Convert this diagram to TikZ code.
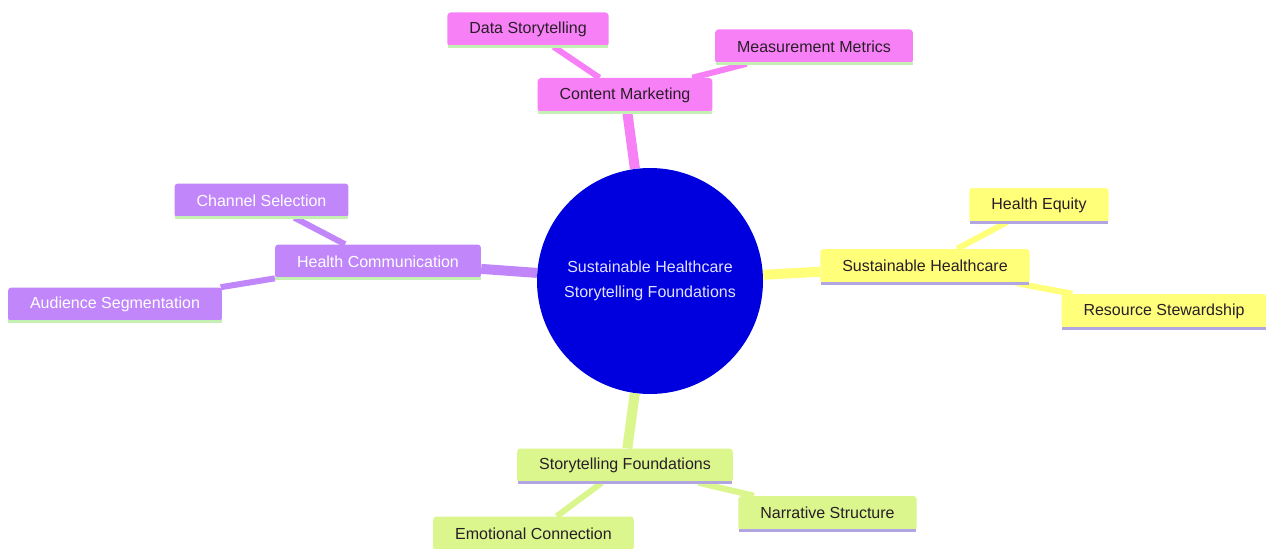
\documentclass[tikz,border=0pt]{standalone}
\usepackage{fontspec}
\setmainfont{Liberation Sans}
\usepackage{tikz}
\usetikzlibrary{backgrounds}

\definecolor{rootblue}{RGB}{0,0,222}
\definecolor{pinkfill}{RGB}{248,128,246}
\definecolor{yellowfill}{RGB}{255,255,122}
\definecolor{purplefill}{RGB}{192,134,250}
\definecolor{greenfill}{RGB}{218,246,140}
\definecolor{linegreen}{RGB}{196,240,180}
\definecolor{linelavender}{RGB}{178,166,226}
\definecolor{darktext}{RGB}{40,30,40}

\begin{document}
\begin{tikzpicture}[x=0.75pt, y=-0.75pt,
        root/.style={circle, fill=rootblue, minimum size=169.5pt, inner sep=0pt, text={rgb,255:red,225;green,225;blue,255}, align=center, font=\fontsize{12}{18.75}\selectfont},
        topic/.style={rectangle, rounded corners=2.5pt, minimum height=25.5pt, inner xsep=16.5pt, inner ysep=0pt, font=\fontsize{12}{14}\selectfont},
        pinkbox/.style={topic, fill=pinkfill, text=darktext},
        yellowbox/.style={topic, fill=yellowfill, text=darktext},
        purplebox/.style={topic, fill=purplefill, text=white},
        greenbox/.style={topic, fill=greenfill, text=darktext},
        trunk/.style={line width=7.5pt},
        twig/.style={line width=4.5pt}
      ]
        \useasboundingbox (0,0) rectangle (1266,549);

        \node[root]       (root)   at (650,281)   {Sustainable Healthcare\\Storytelling Foundations};

        \node[pinkbox]    (market) at (625,95)    {Content Marketing};
        \node[pinkbox]    (data)   at (528,29.5)  {Data Storytelling};
        \node[pinkbox]    (metric) at (814,46.5)  {Measurement Metrics};

        \node[yellowbox]  (sustain) at (925,266)  {Sustainable Healthcare};
        \node[yellowbox]  (equity)  at (1039,205) {Health Equity};
        \node[yellowbox]  (steward) at (1164,311) {Resource Stewardship};

        \node[purplebox]  (comm)     at (378,261.5) {Health Communication};
        \node[purplebox]  (channel)  at (261.5,200.5) {Channel Selection};
        \node[purplebox]  (audience) at (115,304.5) {Audience Segmentation};

        \node[greenbox]   (story)   at (625,465.5) {Storytelling Foundations};
        \node[greenbox]   (emotion) at (533.5,533.5) {Emotional Connection};
        \node[greenbox]   (narrate) at (827.5,513) {Narrative Structure};

        \foreach \n/\c in {market/linegreen, data/linegreen, metric/linegreen,
                           sustain/linelavender, equity/linelavender, steward/linelavender,
                           comm/linegreen, channel/linegreen, audience/linegreen,
                           story/linelavender, emotion/linelavender, narrate/linelavender}
          \draw[\c, line width=2.25pt] ([xshift=0.5pt]\n.south west) -- ([xshift=-0.5pt]\n.south east);

        \begin{scope}[on background layer]
          \fill[white] (0,0) rectangle (1266,549);
          \draw[pinkfill, trunk]    (root) -- (market);
          \draw[pinkfill, twig]     (market) -- (data);
          \draw[pinkfill, twig]     (market) -- (metric);
          \draw[yellowfill, trunk]  (root) -- (sustain);
          \draw[yellowfill, twig]   (sustain) -- (equity);
          \draw[yellowfill, twig]   (sustain) -- (steward);
          \draw[purplefill, trunk]  (root) -- (comm);
          \draw[purplefill, twig]   (comm) -- (channel);
          \draw[purplefill, twig]   (comm) -- (audience);
          \draw[greenfill, trunk]   (root) -- (story);
          \draw[greenfill, twig]    (story) -- (emotion);
          \draw[greenfill, twig]    (story) -- (narrate);
        \end{scope}
      \end{tikzpicture}
\end{document}
